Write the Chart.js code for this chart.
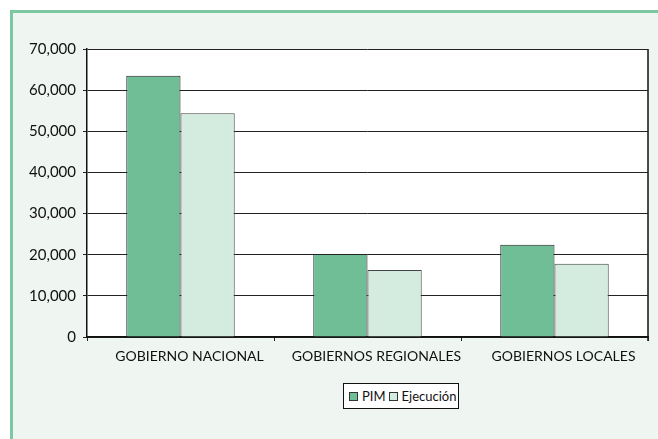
<!DOCTYPE html>
<html>
<head>
<meta charset="utf-8">
<script src="https://cdn.jsdelivr.net/npm/chart.js@4"></script>
<style>
  body { margin: 0; background: #fff; font-family: Lato, "Open Sans", sans-serif; }
  #frame {
    position: absolute; left: 10px; top: 10px; width: 648px; height: 429px;
    background: #eff5f1; border-left: 3px solid #7cc8a0; border-top: 3px solid #7cc8a0;
    box-sizing: border-box;
  }
  #wrap { position: absolute; left: 0; top: 0; width: 658px; height: 439px; }
  #legend {
    position: absolute; left: 343px; top: 383px; width: 116px; height: 26px;
    box-sizing: border-box; border: 1.5px solid #111; background: #fff;
    font-size: 13px; color: #111; display: flex; align-items: center; padding-left: 5px;
    white-space: nowrap;
  }
  .sw { display: inline-block; width: 7px; height: 7px; border: 1px solid #333; margin-right: 4px; }
</style>
</head>
<body>
<div id="frame"></div>
<div id="wrap"><canvas id="myChart" width="658" height="439"></canvas></div>
<div id="legend">
  <span class="sw" style="background:#70be96"></span><span>PIM</span>
  <span class="sw" style="background:#d4ebdf;margin-left:3px"></span><span>Ejecución</span>
</div>
<script>
// Get a reference to the chart canvas element
var chartCanvas = document.getElementById('myChart');

var categories = ["GOBIERNO NACIONAL", "GOBIERNOS REGIONALES", "GOBIERNOS LOCALES"];
var pimValues = [63500, 20200, 22400];
var ejecucionValues = [54400, 16300, 17800];
var yTicks = [0, 10000, 20000, 30000, 40000, 50000, 60000, 70000];

// white plot background + right frame line
var plotBg = {
  id: 'plotBg',
  beforeDraw: function(chart) {
    var a = chart.chartArea, ctx = chart.ctx;
    ctx.save();
    ctx.fillStyle = '#ffffff';
    ctx.fillRect(a.left, a.top, a.right - a.left, a.bottom - a.top);
    ctx.strokeStyle = '#111';
    ctx.lineWidth = 1.5;
    ctx.beginPath();
    ctx.moveTo(a.right, a.top);
    ctx.lineTo(a.right, a.bottom + 4);
    ctx.stroke();
    ctx.restore();
  }
};

var data = {
  labels: categories,
  datasets: [{
    label: "PIM",
    backgroundColor: "#70be96",
    borderColor: "#222222",
    borderWidth: 1,
    data: pimValues
  },
  {
    label: "Ejecución",
    backgroundColor: "#d4ebdf",
    borderColor: "#444444",
    borderWidth: 1,
    data: ejecucionValues
  }]
};

var options = {
  responsive: false,
  animation: false,
  layout: { padding: { top: 49, right: 10, left: 0, bottom: 0 } },
  plugins: { legend: { display: false }, tooltip: { enabled: false } },
  datasets: { bar: { categoryPercentage: 0.58, barPercentage: 1 } },
  scales: {
    y: {
      min: 0, max: 70000,
      afterFit: function(s) { s.width = 87; },
      afterBuildTicks: function(s) { s.ticks = yTicks.map(function(v) { return { value: v }; }); },
      ticks: {
        padding: 7,
        color: '#111',
        font: { family: 'Lato', size: 15 },
        callback: function(v) { return v.toLocaleString('en-US'); }
      },
      grid: { color: '#222', lineWidth: 1, tickLength: 4 },
      border: { color: '#111', width: 1.5 }
    },
    x: {
      afterFit: function(s) { s.height = 102; },
      ticks: {
        padding: 7,
        labelOffset: 9,
        maxRotation: 0,
        autoSkip: false,
        color: '#111',
        font: { family: 'Lato', size: 14 }
      },
      grid: { offset: true, drawOnChartArea: false, color: '#222', tickLength: 4 },
      border: { color: '#111', width: 1.5 }
    }
  }
};

var myChart = new Chart(chartCanvas, {
  type: 'bar',
  data: data,
  options: options,
  plugins: [plotBg]
});
</script>
</body>
</html>
